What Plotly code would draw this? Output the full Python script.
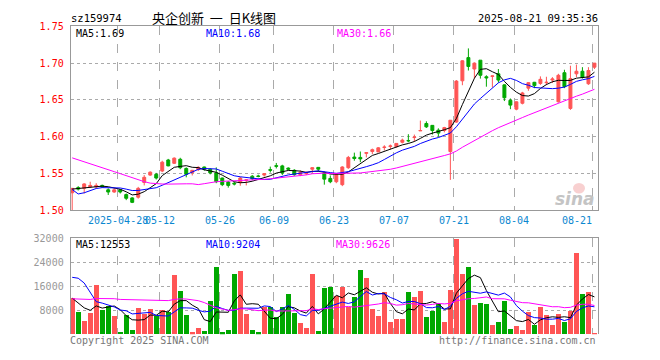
import plotly.graph_objects as go
import pandas as pd

# ---------------- data ----------------
dates = ["04-16","04-17","04-18","04-21","04-22","04-23","04-24","04-25","04-28","04-29","04-30",
         "05-06","05-07","05-08","05-09","05-12","05-13","05-14","05-15","05-16","05-19","05-20",
         "05-21","05-22","05-23","05-26","05-27","05-28","05-29","05-30","06-03","06-04","06-05",
         "06-06","06-09","06-10","06-11","06-12","06-13","06-16","06-17","06-18","06-19","06-20",
         "06-23","06-24","06-25","06-26","06-27","06-30","07-01","07-02","07-03","07-04","07-07",
         "07-08","07-09","07-10","07-11","07-14","07-15","07-16","07-17","07-18","07-21","07-22",
         "07-23","07-24","07-25","07-28","07-29","07-30","07-31","08-01","08-04","08-05","08-06",
         "08-07","08-08","08-11","08-12","08-13","08-14","08-15","08-18","08-19","08-20","08-21"]

open_ = [1.524,1.531,1.530,1.532,1.532,1.534,1.528,1.525,1.528,1.5215,1.517,1.518,1.538,1.548,1.549,
         1.5535,1.5685,1.564,1.5695,1.557,1.5515,1.5555,1.559,1.556,1.551,1.544,1.5385,1.537,1.538,1.541,
         1.5465,1.5468,1.548,1.5555,1.5608,1.5605,1.5575,1.5545,1.5485,1.550,1.556,1.5585,1.551,1.5435,
         1.539,1.535,1.558,1.5725,1.572,1.5775,1.580,1.5795,1.5855,1.587,1.5865,1.5925,1.595,1.599,1.608,
         1.618,1.6155,1.609,1.6085,1.580,1.620,1.676,1.7075,1.692,1.704,1.6815,1.682,1.6855,1.6705,1.6495,
         1.6375,1.6455,1.666,1.674,1.6725,1.6735,1.677,1.6475,1.687,1.6385,1.6855,1.689,1.672,1.6945]
high = [1.5305,1.533,1.537,1.539,1.537,1.535,1.530,1.530,1.529,1.523,1.518,1.532,1.548,1.553,1.551,
        1.5675,1.570,1.572,1.5715,1.5585,1.555,1.560,1.5595,1.557,1.5585,1.5445,1.540,1.539,1.5455,1.542,
        1.548,1.5485,1.5505,1.5595,1.5645,1.562,1.5585,1.556,1.5545,1.553,1.5585,1.559,1.5525,1.5475,
        1.550,1.560,1.574,1.5785,1.580,1.579,1.584,1.586,1.5885,1.5895,1.5915,1.5975,1.6035,1.603,1.622,
        1.621,1.616,1.6115,1.6135,1.6225,1.677,1.704,1.720,1.701,1.704,1.6835,1.683,1.692,1.671,1.652,
        1.648,1.661,1.674,1.6745,1.682,1.6815,1.681,1.6855,1.691,1.6965,1.698,1.6945,1.6945,1.700]
low = [1.500,1.527,1.523,1.531,1.530,1.531,1.521,1.524,1.523,1.514,1.510,1.516,1.534,1.547,1.542,
       1.552,1.560,1.563,1.556,1.545,1.5475,1.5535,1.554,1.549,1.537,1.533,1.531,1.534,1.5335,1.534,
       1.541,1.545,1.546,1.5515,1.557,1.548,1.5545,1.547,1.5465,1.548,1.5505,1.553,1.535,1.537,
       1.537,1.533,1.5565,1.5675,1.5655,1.572,1.5765,1.579,1.5815,1.583,1.5855,1.591,1.5925,1.5935,1.608,
       1.612,1.603,1.600,1.606,1.5415,1.619,1.670,1.690,1.679,1.679,1.668,1.667,1.6735,1.6485,1.6375,
       1.636,1.644,1.6625,1.666,1.6705,1.670,1.673,1.6465,1.666,1.6365,1.681,1.679,1.6705,1.692]
close = [1.530,1.529,1.536,1.534,1.534,1.532,1.525,1.528,1.525,1.5165,1.511,1.530,1.545,1.552,1.544,
         1.5655,1.5605,1.571,1.558,1.549,1.5545,1.5585,1.556,1.551,1.539,1.535,1.534,1.536,1.544,1.5415,
         1.543,1.5462,1.550,1.5545,1.5600,1.551,1.556,1.5485,1.5515,1.5515,1.558,1.556,1.5425,1.539,
         1.549,1.559,1.572,1.5705,1.570,1.5785,1.5825,1.585,1.586,1.5875,1.591,1.5955,1.5945,1.5995,1.6085,
         1.6135,1.6085,1.605,1.6125,1.6225,1.6756,1.7032,1.6955,1.700,1.6835,1.680,1.6826,1.677,1.653,1.643,
         1.6475,1.6595,1.6735,1.6695,1.678,1.674,1.6785,1.6835,1.668,1.679,1.689,1.6805,1.690,1.700]
volume = [11900,7500,4300,6900,16500,8200,9400,5900,800,6450,1440,8800,6700,8400,6200,
          8160,7520,19700,14240,6240,600,1970,1120,11000,22250,590,1500,20000,21000,6670,
          1550,590,8900,8900,5700,8900,13390,6990,3600,2150,20100,910,15300,15840,
          12640,15840,8900,12380,21300,18700,8480,5970,13920,4100,4960,4960,13920,12380,14240,
          5600,7840,10080,4100,14560,31600,20000,22250,9760,10450,10130,3040,4000,11040,1760,
          2720,1440,7520,3040,9100,6240,3040,6560,4050,7580,27050,13340,13920,190]

# earlier sessions (off the left edge), estimated from where the MA lines start
hist_close = [1.605,1.612,1.618,1.615,1.610,1.608,1.612,1.606,1.600,1.604,1.610,1.615,1.612,
              1.575,1.570,1.565,1.560,1.555,1.550,1.555,1.590,
              1.520,1.500,1.510,1.520,1.525,1.528,1.530,1.532]
hist_volume = [9000,7500,8800,6900,8200,9500,7800,8100,7200,8600,9100,7700,8300,8000,7600,8900,8400,7900,8300,8200,
               10500,20300,38900,46500,13000,15000,13000,11000,9100]

label_dates = ["04-28","05-12","05-26","06-09","06-23","07-07","07-21","08-04","08-21"]
label_texts = ["2025-04-28","05-12","05-26","06-09","06-23","07-07","07-21","08-04","08-21"]
price_ticks = [1.50,1.55,1.60,1.65,1.70,1.75]
vol_ticks = [8000,16000,24000,32000]
price_ma_text = ["MA5:1.69","MA10:1.68","MA30:1.66"]
vol_ma_text = ["MA5:12553","MA10:9204","MA30:9626"]
ma_periods = [5,10,30]

# ---------------- styling ----------------
RED = "#ff5555"
GREEN = "#00a800"
MA_COLORS = ["#000000", "#0000ff", "#ff00ff"]
MONO = "DejaVu Sans Mono"
W, H = 660, 360
PX_L, PX_R = 70.7, 597.5
MAIN_T, MAIN_B = 21.0, 211.5
VOL_T, VOL_B = 240.0, 339.5
XR = [-0.25, 87.51]

def px(x):
    return x / W

def py(y):
    return 1 - y / H

n = len(dates)
xs = list(range(n))
n_hist = len(hist_close)
full_close = pd.Series(hist_close + close)
full_vol = pd.Series(hist_volume + volume)

fig = go.Figure()

fig.add_trace(go.Candlestick(
    x=xs, open=open_, high=high, low=low, close=close,
    increasing=dict(line=dict(color=RED, width=1), fillcolor=RED),
    decreasing=dict(line=dict(color=GREEN, width=1), fillcolor=GREEN),
    whiskerwidth=0, xaxis="x", yaxis="y", showlegend=False, hoverinfo="skip"))

for p, c in zip(ma_periods, MA_COLORS):
    ma = full_close.rolling(p).mean().iloc[n_hist:].tolist()
    fig.add_trace(go.Scatter(x=xs, y=ma, mode="lines", line=dict(color=c, width=1),
                             xaxis="x", yaxis="y", showlegend=False, hoverinfo="skip"))

vol_colors = [RED if c >= o else GREEN for o, c in zip(open_, close)]
fig.add_trace(go.Bar(x=xs, y=volume, marker=dict(color=vol_colors, line=dict(width=0)),
                     width=0.82, xaxis="x2", yaxis="y2", showlegend=False, hoverinfo="skip"))
for p, c in zip(ma_periods, MA_COLORS):
    ma = full_vol.rolling(p).mean().iloc[n_hist:].tolist()
    fig.add_trace(go.Scatter(x=xs, y=ma, mode="lines", line=dict(color=c, width=1),
                             xaxis="x2", yaxis="y2", showlegend=False, hoverinfo="skip"))

grid_x = [dates.index(d) - 0.4 for d in label_dates]
dom_x = [px(PX_L), px(PX_R)]

xcommon = dict(range=XR, tickvals=grid_x, showticklabels=False, ticks="",
               showgrid=True, gridcolor="#aaaaaa", griddash="dash", gridwidth=1,
               zeroline=False, fixedrange=True)
fig.update_layout(
    width=W, height=H, margin=dict(l=0, r=0, t=0, b=0),
    paper_bgcolor="white", plot_bgcolor="white", showlegend=False,
    bargap=0, hovermode=False,
    xaxis=dict(domain=dom_x, anchor="y", showline=True, mirror=True, linecolor="#999999",
               linewidth=1, rangeslider=dict(visible=False), **xcommon),
    xaxis2=dict(domain=dom_x, anchor="y2", side="top", showline=True, linecolor="#999999",
                linewidth=1, **xcommon),
    yaxis=dict(domain=[py(MAIN_B), py(MAIN_T)], range=[1.50, 1.75], tickvals=price_ticks,
               ticktext=["%.2f" % v for v in price_ticks], tickfont=dict(family=MONO, size=10, color="#ff0000"),
               showgrid=True, gridcolor="#aaaaaa", griddash="dot", gridwidth=1, zeroline=False,
               showline=True, mirror=True, linecolor="#999999", linewidth=1, ticks="",
               ticklabelstandoff=4, fixedrange=True),
    yaxis2=dict(domain=[py(VOL_B), py(VOL_T)], range=[0, 32000], tickvals=vol_ticks,
                ticktext=[str(v) for v in vol_ticks], tickfont=dict(family=MONO, size=10, color="#999999"),
                showgrid=True, gridcolor="#aaaaaa", griddash="dot", gridwidth=1, zeroline=False,
                showline=True, mirror=True, linecolor="#999999", linewidth=1, ticks="",
                ticklabelstandoff=4, fixedrange=True),
)

ann = []
def text(x, y, s, color="#000000", size=10, anchor="left", family=MONO, **kw):
    ann.append(dict(x=px(x), y=py(y), xref="paper", yref="paper", text=s, showarrow=False,
                    xanchor=anchor, yanchor="middle", font=dict(family=family, size=size, color=color), **kw))

# header
text(69, 12, "sz159974", size=10.5)
text(214, 12, "央企创新&nbsp;&nbsp;一&nbsp;&nbsp;日K线图", size=13, anchor="center", family="Noto Sans CJK SC")
text(600, 12, "2025-08-21 09:35:36", size=10.5, anchor="right")

# MA legends
for s, c, x in zip(price_ma_text, MA_COLORS, [74, 204, 335]):
    text(x, 28, s, color=c)
for s, c, x in zip(vol_ma_text, MA_COLORS, [74, 204, 334]):
    text(x, 247, s, color=c)

# date labels
for i, (g, s) in enumerate(zip(grid_x, label_texts)):
    xpix = PX_L + (g - XR[0]) / (XR[1] - XR[0]) * (PX_R - PX_L)
    if i == len(grid_x) - 1:
        text(xpix + 1.5, 222, s, color="#0b87d0", anchor="right")
    else:
        text(xpix, 222, s, color="#0b87d0", anchor="center")

# footer
text(68, 346, "Copyright 2025 SINA.COM", color="#777777")
text(598, 346, "http://finance.sina.com.cn", color="#777777", anchor="right")

# watermark
fig.add_shape(type="circle", xref="paper", yref="paper",
              x0=px(573), x1=px(585), y0=py(194), y1=py(183),
              fillcolor="rgba(240,150,150,0.45)", line=dict(width=0))
text(597, 200, "<b><i>sina</i></b>", color="#c4c4c4", size=17, anchor="right", family="DejaVu Sans")

fig.update_layout(annotations=ann)
fig.write_html("out.html")
